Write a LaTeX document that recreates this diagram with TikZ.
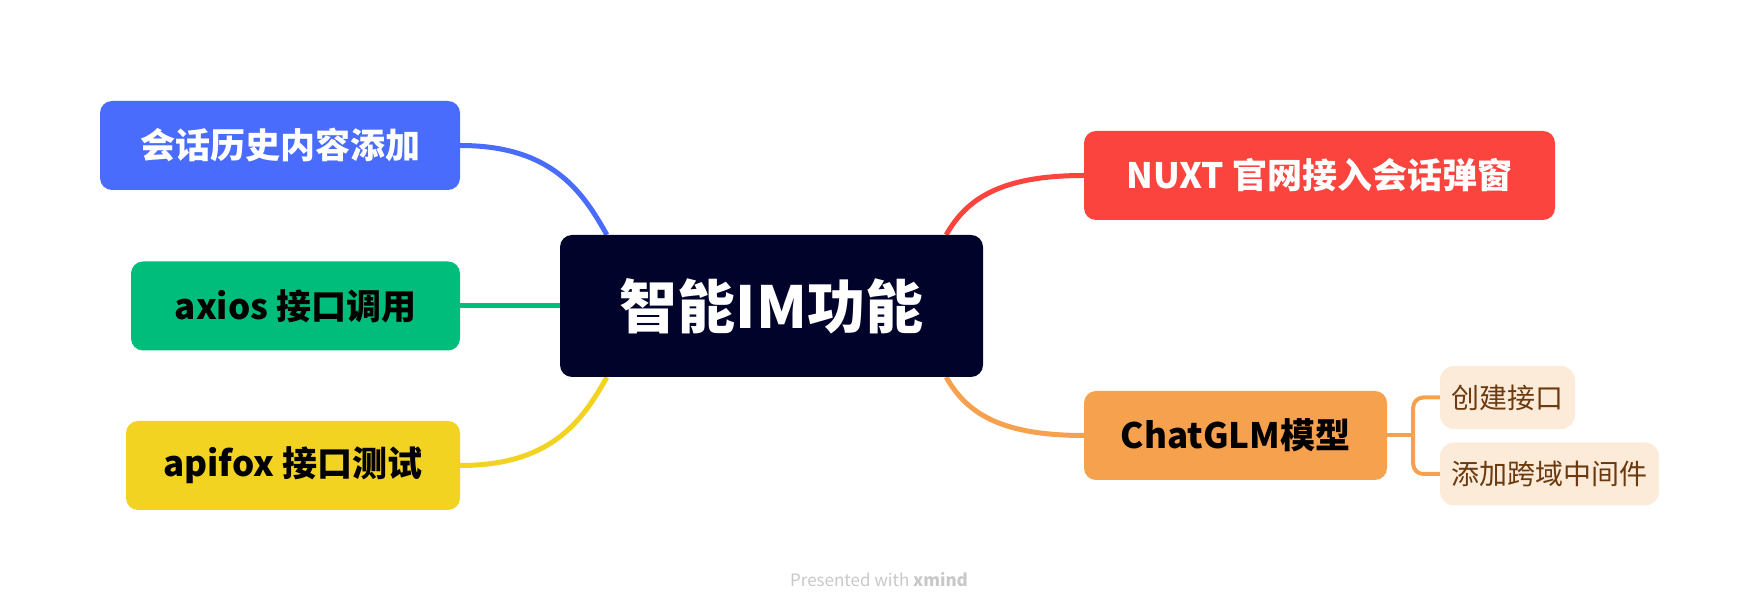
\documentclass[tikz,border=0pt]{standalone}
\usepackage{fontspec}
\setmainfont{Noto Sans CJK SC}
\usepackage{tikz}
\usetikzlibrary{backgrounds}
\definecolor{rootcol}{HTML}{02032A}
\definecolor{histcol}{HTML}{4A6CFD}
\definecolor{axioscol}{HTML}{00BD7C}
\definecolor{foxcol}{HTML}{F2D321}
\definecolor{nuxtcol}{HTML}{FA443D}
\definecolor{glmcol}{HTML}{F6A14E}
\definecolor{subfill}{HTML}{FDEBDA}
\definecolor{subtext}{HTML}{6B3A0E}
\definecolor{footcol}{HTML}{C8C8C8}

\begin{document}
\begin{tikzpicture}[x=1pt,y=1pt,
  topic/.style={rounded corners=12pt,inner sep=0pt,minimum height=89pt,
    font=\fontsize{35}{40}\selectfont\bfseries},
  subtopic/.style={rounded corners=14pt,inner sep=0pt,minimum height=63pt,
    fill=subfill,text=subtext,font=\fontsize{28}{32}\selectfont},
  link/.style={line width=5pt},
  branch/.style={line width=4pt,glmcol,rounded corners=10pt}]
  \useasboundingbox (0,0) rectangle (1760,612);
  % central topic
  \node[topic,fill=rootcol,text=white,minimum width=423pt,minimum height=142pt,
    font=\fontsize{58}{64}\selectfont\bfseries] (root) at (771.5,306) {智能IM功能};
  % left side
  \node[topic,fill=histcol,text=white,minimum width=360pt] (hist) at (280,466.5) {会话历史内容添加};
  \node[topic,fill=axioscol,text=black,minimum width=329pt] (axios) at (295.5,306) {axios 接口调用};
  \node[topic,fill=foxcol,text=black,minimum width=334pt] (apifox) at (293,146.5) {apifox 接口测试};
  % right side
  \node[topic,fill=nuxtcol,text=white,minimum width=471pt] (nuxt) at (1319.5,436.5) {NUXT 官网接入会话弹窗};
  \node[topic,fill=glmcol,text=black,minimum width=303pt] (glm) at (1235.5,176.5) {ChatGLM模型};
  \node[subtopic,minimum width=135pt] (api) at (1507.5,214.5) {创建接口};
  \node[subtopic,minimum width=219pt] (cors) at (1549.5,138) {添加跨域中间件};
  \node[text=footcol,font=\fontsize{17}{20}\selectfont] (credit) at (879,32) {Presented with \textbf{xmind}};
  % connectors behind the boxes
  \begin{scope}[on background layer]
    \coordinate (rootnw) at ([xshift=47pt]root.north west);
    \coordinate (rootsw) at ([xshift=47pt]root.south west);
    \coordinate (rootne) at ([xshift=-37pt]root.north east);
    \coordinate (rootse) at ([xshift=-37pt]root.south east);
    \draw[link,histcol] (hist.east) .. controls +(90,0) and +(-25,45) .. (rootnw);
    \draw[link,axioscol] (axios.east) -- (root.west);
    \draw[link,foxcol] (apifox.east) .. controls +(90,0) and +(-25,-45) .. (rootsw);
    \draw[link,nuxtcol] (rootne) .. controls +(20,35) and +(-85,0) .. (nuxt.west);
    \draw[link,glmcol] (rootse) .. controls +(20,-35) and +(-85,0) .. (glm.west);
    \draw[branch] (glm.east) -- ++(26,0) coordinate (fork);
    \draw[branch] (fork) |- (api.west);
    \draw[branch] (fork) |- (cors.west);
  \end{scope}
\end{tikzpicture}
\end{document}
